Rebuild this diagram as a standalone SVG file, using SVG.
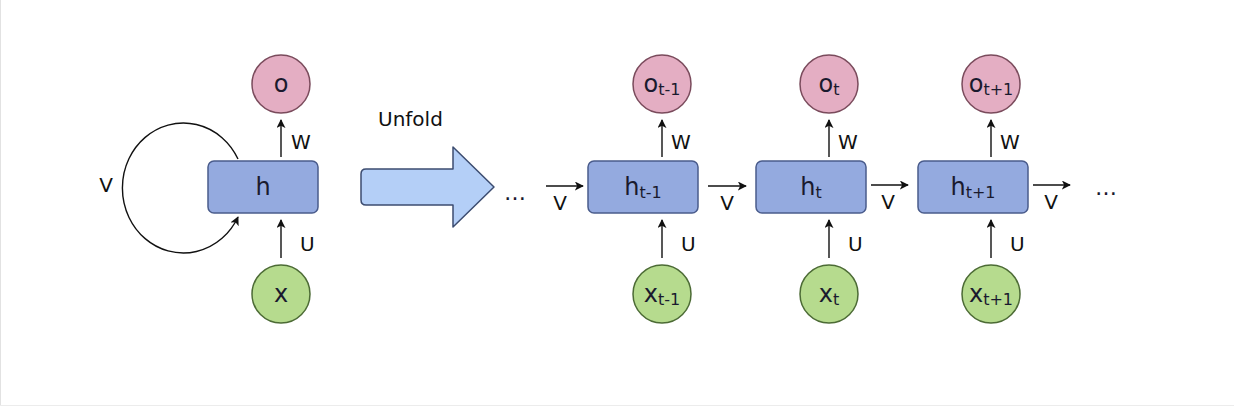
<svg xmlns="http://www.w3.org/2000/svg" width="1234" height="406" viewBox="0 0 1234 406">
<defs>
<marker id="ah" viewBox="0 0 10 10" refX="9" refY="5" markerWidth="9" markerHeight="9" markerUnits="userSpaceOnUse" orient="auto">
<path d="M0,0 L10,5 L0,10 L2.5,5 Z" fill="#111"/>
</marker>
<style>
.out{fill:#e4aec3;stroke:#7a4b5c;stroke-width:1.5}
.in{fill:#b6db8e;stroke:#4c6b35;stroke-width:1.5}
.hid{fill:#94aadf;stroke:#4a5c8c;stroke-width:1.5}
.t{font-family:"DejaVu Sans",sans-serif;font-size:24px;fill:#1a1a2e;text-anchor:middle}
.s{font-size:16px}
.lb{font-family:"DejaVu Sans",sans-serif;font-size:20px;fill:#111}
.lbm{font-family:"DejaVu Sans",sans-serif;font-size:20px;fill:#111;text-anchor:middle}
.c{stroke:#111;stroke-width:1.4;fill:none}
</style>
</defs>
<rect x="0" y="0" width="1234" height="406" fill="#ffffff"/>
<line x1="0.5" y1="0" x2="0.5" y2="406" stroke="#e2e2e2"/>
<line x1="0" y1="405.5" x2="1234" y2="405.5" stroke="#ececec"/>

<!-- folded network -->
<g id="node-o"><circle class="out" cx="281" cy="84" r="29"/><text class="t" x="281" y="92">o</text></g>
<g id="node-h"><rect class="hid" x="208" y="161" width="110" height="52" rx="6"/><text class="t" x="263" y="195">h</text></g>
<g id="node-x"><circle class="in" cx="281" cy="294" r="29"/><text class="t" x="281" y="302">x</text></g>

<!-- unfold arrow -->
<g id="unfold">
<path d="M366,169 L453,169 L453,147 L494,187 L453,227 L453,205 L366,205 Q361,205 361,200 L361,174 Q361,169 366,169 Z" fill="#b4cff7" stroke="#3c4c70" stroke-width="1.5" stroke-linejoin="round"/>
<text class="lb" x="378" y="126">Unfold</text>
</g>

<!-- unfolded network -->
<g id="node-o-tm1"><circle class="out" cx="662" cy="84" r="29"/><text class="t" x="662" y="92">o<tspan class="s" dy="3">t-1</tspan></text></g>
<g id="node-h-tm1"><rect class="hid" x="588" y="161" width="110" height="52" rx="6"/><text class="t" x="643" y="195">h<tspan class="s" dy="3">t-1</tspan></text></g>
<g id="node-x-tm1"><circle class="in" cx="662" cy="294" r="29"/><text class="t" x="662" y="302">x<tspan class="s" dy="3">t-1</tspan></text></g>

<g id="node-o-t"><circle class="out" cx="829" cy="84" r="29"/><text class="t" x="829" y="92">o<tspan class="s" dy="3">t</tspan></text></g>
<g id="node-h-t"><rect class="hid" x="756" y="161" width="110" height="52" rx="6"/><text class="t" x="811" y="195">h<tspan class="s" dy="3">t</tspan></text></g>
<g id="node-x-t"><circle class="in" cx="829" cy="294" r="29"/><text class="t" x="829" y="302">x<tspan class="s" dy="3">t</tspan></text></g>

<g id="node-o-tp1"><circle class="out" cx="991" cy="84" r="29"/><text class="t" x="991" y="92">o<tspan class="s" dy="3">t+1</tspan></text></g>
<g id="node-h-tp1"><rect class="hid" x="918" y="161" width="110" height="52" rx="6"/><text class="t" x="973" y="195">h<tspan class="s" dy="3">t+1</tspan></text></g>
<g id="node-x-tp1"><circle class="in" cx="991" cy="294" r="29"/><text class="t" x="991" y="302">x<tspan class="s" dy="3">t+1</tspan></text></g>

<g id="ellipses">
<text class="t" x="515" y="200" style="font-size:22px">…</text>
<text class="t" x="1106" y="195" style="font-size:22px">…</text>
</g>

<g id="connectors">
<!-- folded -->
<line class="c" x1="281" y1="157" x2="281" y2="120" marker-end="url(#ah)"/>
<line class="c" x1="281" y1="258" x2="281" y2="220" marker-end="url(#ah)"/>
<path class="c" d="M238,159 A61 65 0 1 0 238,217" marker-end="url(#ah)"/>
<text class="lb" x="291" y="149">W</text>
<text class="lb" x="300" y="251">U</text>
<text class="lbm" x="106" y="192">V</text>

<!-- unfolded verticals -->
<line class="c" x1="662" y1="157" x2="662" y2="120" marker-end="url(#ah)"/>
<line class="c" x1="662" y1="258" x2="662" y2="220" marker-end="url(#ah)"/>
<text class="lb" x="671" y="149">W</text>
<text class="lb" x="681" y="251">U</text>

<line class="c" x1="829" y1="157" x2="829" y2="120" marker-end="url(#ah)"/>
<line class="c" x1="829" y1="258" x2="829" y2="220" marker-end="url(#ah)"/>
<text class="lb" x="838" y="149">W</text>
<text class="lb" x="848" y="251">U</text>

<line class="c" x1="991" y1="157" x2="991" y2="120" marker-end="url(#ah)"/>
<line class="c" x1="991" y1="258" x2="991" y2="220" marker-end="url(#ah)"/>
<text class="lb" x="1000" y="149">W</text>
<text class="lb" x="1010" y="251">U</text>

<!-- horizontals -->
<line class="c" x1="546" y1="186" x2="583" y2="186" marker-end="url(#ah)"/>
<text class="lbm" x="560" y="210">V</text>
<line class="c" x1="708" y1="186" x2="746" y2="186" marker-end="url(#ah)"/>
<text class="lbm" x="727" y="210">V</text>
<line class="c" x1="871" y1="185" x2="908" y2="185" marker-end="url(#ah)"/>
<text class="lbm" x="888" y="209">V</text>
<line class="c" x1="1033" y1="185" x2="1070" y2="185" marker-end="url(#ah)"/>
<text class="lbm" x="1051" y="209">V</text>
</g>
</svg>
